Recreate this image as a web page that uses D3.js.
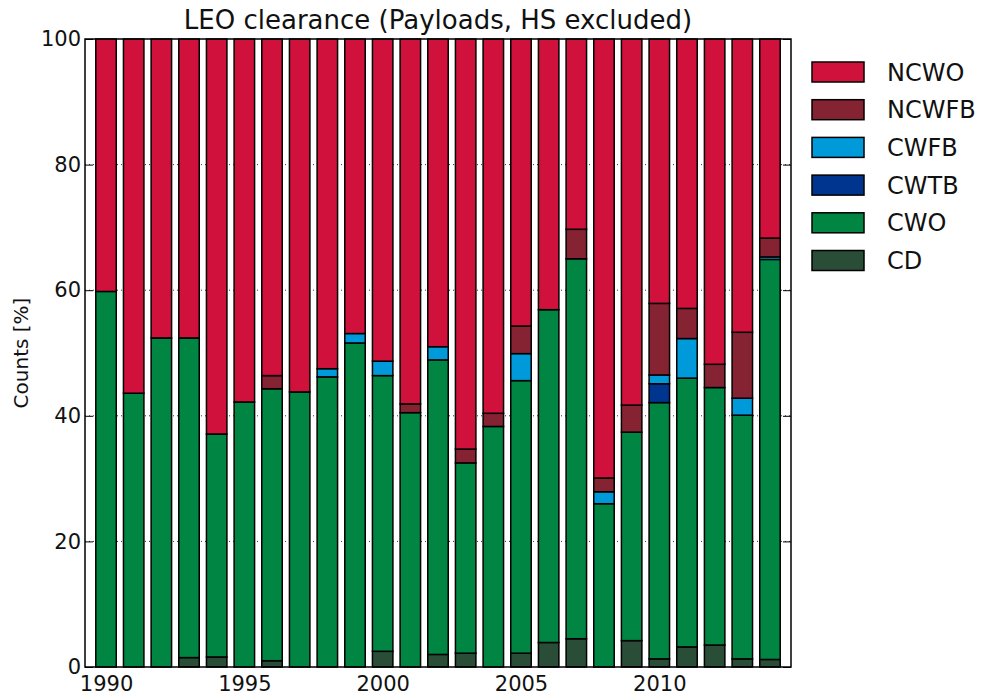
<!DOCTYPE html>
<html>
<head>
<meta charset="utf-8">
<script src="https://cdn.jsdelivr.net/npm/d3@7"></script>
<style>
  body { margin: 0; background: #fff; }
  svg { display: block; font-family: "DejaVu Sans", Verdana, sans-serif; }
</style>
</head>
<body>
<svg id="chart" width="985" height="695"></svg>
<script>
// Share of LEO payloads per year by clearance outcome, in percent
const years = [1990, 1991, 1992, 1993, 1994, 1995, 1996, 1997, 1998, 1999,
               2000, 2001, 2002, 2003, 2004, 2005, 2006, 2007, 2008, 2009,
               2010, 2011, 2012, 2013, 2014];

const CD    = [0, 0, 0, 1.5, 1.6, 0, 1.0, 0, 0, 0,
               2.5, 0, 2.0, 2.2, 0, 2.2, 3.9, 4.5, 0, 4.2,
               1.3, 3.2, 3.5, 1.3, 1.2];
const CWO   = [59.8, 43.6, 52.4, 50.9, 35.5, 42.2, 43.3, 43.8, 46.2, 51.6,
               43.9, 40.5, 46.9, 30.3, 38.3, 43.4, 53.0, 60.5, 26.0, 33.2,
               40.8, 42.8, 41.0, 38.8, 63.7];
const CWTB  = [0, 0, 0, 0, 0, 0, 0, 0, 0, 0,
               0, 0, 0, 0, 0, 0, 0, 0, 0, 0,
               3.0, 0, 0, 0, 0];
const CWFB  = [0, 0, 0, 0, 0, 0, 0, 0, 1.3, 1.5,
               2.3, 0, 2.1, 0, 0, 4.3, 0, 0, 1.9, 0,
               1.4, 6.3, 0, 2.7, 0.4];
const NCWFB = [0, 0, 0, 0, 0, 0, 2.1, 0, 0, 0,
               0, 1.4, 0, 2.2, 2.1, 4.4, 0, 4.7, 2.2, 4.3,
               11.4, 4.8, 3.7, 10.5, 3.0];
const NCWO  = [40.2, 56.4, 47.6, 47.6, 62.9, 57.8, 53.6, 56.2, 52.5, 46.9,
               51.3, 58.1, 49.0, 65.3, 59.6, 45.7, 43.1, 30.3, 69.9, 58.3,
               42.1, 42.9, 51.8, 46.7, 31.7];

// stacking order, bottom to top
const seriesKeys = ["CD", "CWO", "CWTB", "CWFB", "NCWFB", "NCWO"];
const seriesValues = { CD, CWO, CWTB, CWFB, NCWFB, NCWO };
const seriesColors = {
  NCWO:  "#d0113c",
  NCWFB: "#862333",
  CWFB:  "#0099d9",
  CWTB:  "#00358f",
  CWO:   "#008543",
  CD:    "#2a4d37"
};
const legendOrder = ["NCWO", "NCWFB", "CWFB", "CWTB", "CWO", "CD"];

const yTicks = [0, 20, 40, 60, 80, 100];
const xTicks = [1990, 1995, 2000, 2005, 2010];

const rows = years.map((yr, i) => {
  const r = { year: yr };
  seriesKeys.forEach(k => { r[k] = seriesValues[k][i]; });
  return r;
});

const svg = d3.select("#chart");
const plot = { left: 85, right: 791, top: 39, bottom: 667 };
const barWidthYears = 0.74;

const x = d3.scaleLinear()
  .domain([years[0] - 0.76, years[years.length - 1] + 0.76])
  .range([plot.left, plot.right]);
const y = d3.scaleLinear().domain([0, 100]).range([plot.bottom, plot.top]);

const stacked = d3.stack().keys(seriesKeys)(rows);

// dotted grid behind the bars
svg.append("g")
  .selectAll("line")
  .data(yTicks.filter(t => t > 0 && t < 100))
  .join("line")
  .attr("x1", plot.left).attr("x2", plot.right)
  .attr("y1", d => y(d)).attr("y2", d => y(d))
  .attr("stroke", "#333")
  .attr("stroke-width", 1)
  .attr("stroke-dasharray", "1,3");

// stacked bars
const bw = x(years[0] + barWidthYears) - x(years[0]);
svg.append("g")
  .selectAll("g")
  .data(stacked)
  .join("g")
  .attr("fill", d => seriesColors[d.key])
  .selectAll("rect")
  .data(d => d.filter(s => s[1] - s[0] > 0))
  .join("rect")
  .attr("x", d => x(d.data.year) - bw / 2)
  .attr("width", bw)
  .attr("y", d => y(d[1]))
  .attr("height", d => y(d[0]) - y(d[1]))
  .attr("stroke", "#000")
  .attr("stroke-width", 1.5);

// y axes on both sides, ticks pointing inward
const yLeft = svg.append("g")
  .attr("transform", `translate(${plot.left},0)`)
  .call(d3.axisLeft(y).tickValues(yTicks).tickSize(-8).tickPadding(4).tickFormat(d3.format("d")));
const yRight = svg.append("g")
  .attr("transform", `translate(${plot.right},0)`)
  .call(d3.axisRight(y).tickValues(yTicks).tickSize(-8).tickFormat(""));
const xBottom = svg.append("g")
  .attr("transform", `translate(0,${plot.bottom})`)
  .call(d3.axisBottom(x).tickValues(xTicks).tickSize(0).tickPadding(9).tickFormat(d3.format("d")));

[yLeft, yRight, xBottom].forEach(g => {
  g.select(".domain").remove();
  g.selectAll("line").attr("stroke", "#000").attr("stroke-width", 1);
  g.selectAll("text").attr("font-size", 21).attr("fill", "#111")
    .attr("font-family", "DejaVu Sans, Verdana, sans-serif");
});

// plot frame
svg.append("rect")
  .attr("x", plot.left).attr("y", plot.top)
  .attr("width", plot.right - plot.left).attr("height", plot.bottom - plot.top)
  .attr("fill", "none").attr("stroke", "#000").attr("stroke-width", 1.5);

// title
svg.append("text")
  .attr("x", (plot.left + plot.right) / 2).attr("y", 29)
  .attr("text-anchor", "middle")
  .attr("font-size", 26).attr("fill", "#111")
  .text("LEO clearance (Payloads, HS excluded)");

// y label
svg.append("text")
  .attr("transform", `translate(28,${(plot.top + plot.bottom) / 2}) rotate(-90)`)
  .attr("text-anchor", "middle")
  .attr("font-size", 20).attr("fill", "#111")
  .text("Counts [%]");

// legend
const legend = svg.append("g").attr("transform", "translate(812,62)");
const item = legend.selectAll("g").data(legendOrder).join("g")
  .attr("transform", (d, i) => `translate(0,${i * 37.7})`);
item.append("rect")
  .attr("width", 52).attr("height", 20)
  .attr("fill", d => seriesColors[d])
  .attr("stroke", "#000").attr("stroke-width", 1.5);
item.append("text")
  .attr("x", 75).attr("y", 10).attr("dy", "0.36em")
  .attr("font-size", 24).attr("fill", "#111")
  .text(d => d);
</script>
</body>
</html>
